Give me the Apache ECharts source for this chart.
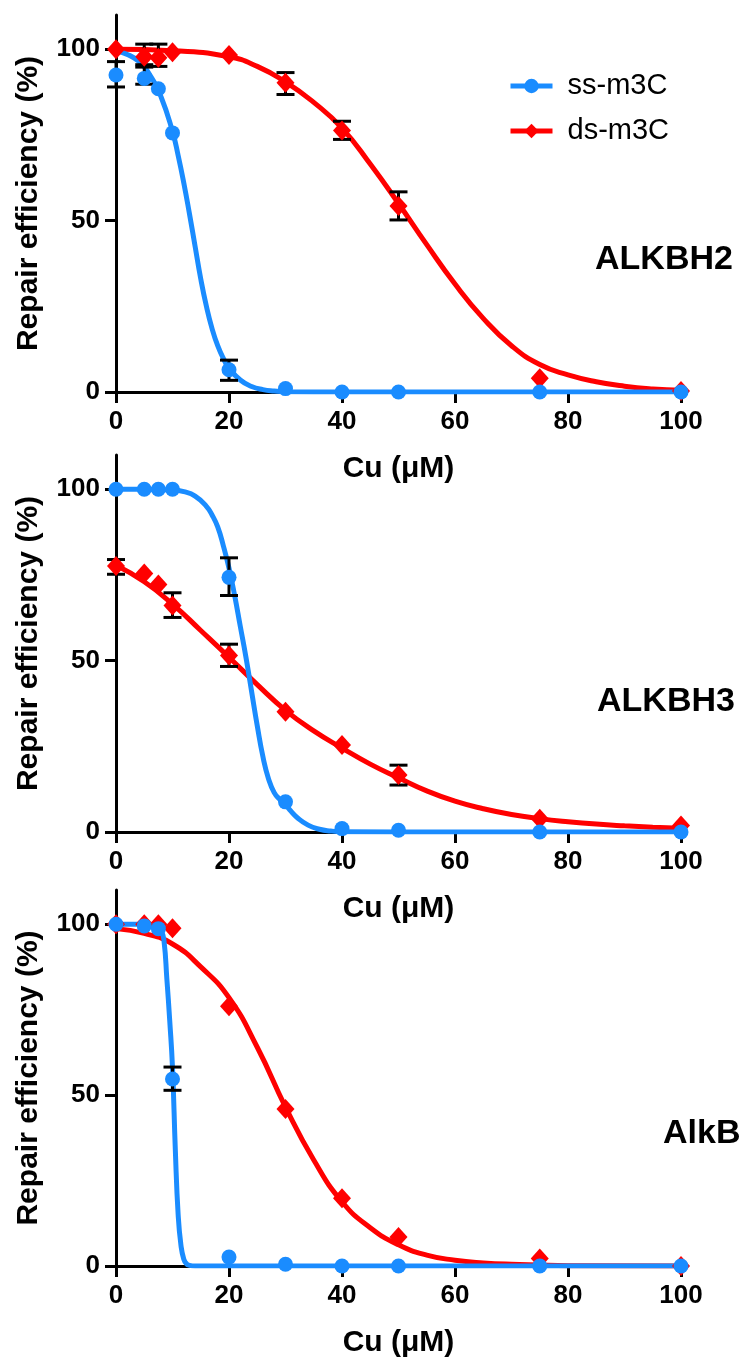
<!DOCTYPE html>
<html>
<head>
<meta charset="utf-8">
<script src="https://cdn.jsdelivr.net/npm/echarts@6/dist/echarts.min.js"></script>
<style>
  html, body { margin: 0; padding: 0; background: #fff; }
  #chart { width: 742px; height: 1361px; }
</style>
</head>
<body>
<div id="chart"></div>
<script>
// Cu doses (µM) for the measured points
const doses = [0, 5, 7.5, 10, 20, 30, 40, 50, 75, 100]
const xTicks = [0, 20, 40, 60, 80, 100]
const yTicks = [0, 50, 100]
const panelNames = ['ALKBH2', 'ALKBH3', 'AlkB']
const seriesNames = ['ss-m3C', 'ds-m3C']

// ALKBH2 measured points
const h2Ss = [92.5, 91.5, 88.5, 75.6, 6.5, 1.0, 0, 0, 0, 0]
const h2Ds = [100, 97.8, 97.5, 99.1, 98.3, 90.2, 76.3, 54.3, 4.0, 0.3]
// ALKBH2 fitted curves
const h2SsFitX = [0, 2, 4, 6, 8, 10, 11, 12, 13, 14, 15, 16, 17, 18, 19, 20, 22, 24, 26, 28, 30, 40, 60, 80, 100]
const h2SsFitY = [99.5, 98.5, 96.5, 92.5, 86, 76, 69, 61, 52, 42.5, 33, 25, 18.5, 13.5, 9.8, 7, 3.5, 1.6, 0.7, 0.3, 0.1, 0, 0, 0, 0]
const h2DsFitX = [0, 10, 20, 25, 30, 35, 40, 45, 50, 55, 60, 65, 70, 75, 80, 85, 90, 95, 100]
const h2DsFitY = [100, 99.6, 97.8, 95, 90.5, 84.5, 77, 66.5, 55, 43, 31.5, 21.5, 13.5, 8, 5, 3, 1.7, 0.9, 0.5]
// ALKBH2 error bars
const h2SsErrX = [0, 5, 20]
const h2SsErrLo = [89, 89.8, 3.4]
const h2SsErrHi = [96.4, 94.8, 9.3]
const h2DsErrX = [5, 7.5, 30, 40, 50]
const h2DsErrLo = [95.5, 95, 86.8, 73.7, 50.2]
const h2DsErrHi = [101.5, 101.5, 93.2, 79, 58.4]

// ALKBH3 measured points
const h3Ss = [100, 100, 100, 100, 74.3, 8.8, 1.0, 0.5, 0, 0]
const h3Ds = [77.6, 75.4, 72.2, 66.1, 51.5, 35.1, 25.4, 16.6, 3.9, 1.9]
// ALKBH3 fitted curves
const h3SsFitX = [0, 5, 10, 12, 14, 16, 17, 18, 19, 20, 21, 22, 23, 24, 25, 26, 27, 28, 29, 30, 31, 32, 34, 36, 38, 40, 60, 100]
const h3SsFitY = [100, 100, 99.8, 99.3, 98, 95, 92.5, 89, 83.5, 77, 69, 60, 51, 41, 31, 22, 15.5, 11.5, 9.5, 8, 6, 4.3, 2, 0.8, 0.3, 0.1, 0, 0]
const h3DsFitX = [0, 5, 10, 15, 20, 25, 30, 35, 40, 45, 50, 55, 60, 65, 70, 75, 80, 85, 90, 95, 100]
const h3DsFitY = [77.8, 73, 66.5, 58.8, 51, 43, 35.5, 29.5, 24.5, 19.8, 15.8, 12, 9, 6.8, 5.1, 3.9, 3.0, 2.3, 1.8, 1.4, 1.1]
// ALKBH3 error bars
const h3SsErrX = [20]
const h3SsErrLo = [69]
const h3SsErrHi = [80]
const h3DsErrX = [0, 10, 20, 50]
const h3DsErrLo = [75.2, 62.6, 48.3, 13.7]
const h3DsErrHi = [79.5, 69.8, 54.8, 19.5]

// AlkB measured points
const alkSs = [100, 99.5, 98.7, 54.7, 2.6, 0.5, 0, 0, 0, 0]
const alkDs = [100, 100, 100, 98.8, 76, 45.9, 19.8, 8.5, 2.2, 0]
// AlkB fitted curves
const alkSsFitX = [0, 5, 7, 8, 8.5, 9, 9.5, 10, 10.5, 11, 11.5, 12, 12.5, 13, 14, 20, 100]
const alkSsFitY = [100, 100, 99.3, 98, 95, 84, 72, 58, 34, 15, 6, 2, 0.6, 0.2, 0, 0, 0]
const alkDsFitX = [0, 5, 10, 15, 20, 25, 30, 35, 40, 45, 50, 55, 60, 65, 70, 80, 100]
const alkDsFitY = [98.7, 97.3, 94.2, 87.5, 78.5, 64, 46.5, 31, 18.8, 11.2, 6.2, 3.2, 1.7, 0.9, 0.5, 0.1, 0]
// AlkB error bars
const alkSsErrX = [10]
const alkSsErrLo = [51.4]
const alkSsErrHi = [58.2]
const alkDsErrX = []
const alkDsErrLo = []
const alkDsErrHi = []

const BLUE = '#1a8cff'
const RED = '#ff0000'
const FONT = "'Liberation Sans', Arial, sans-serif"

const panels = [
  { top: 15, height: 377, ss: h2Ss, ds: h2Ds, ssFit: [h2SsFitX, h2SsFitY], dsFit: [h2DsFitX, h2DsFitY],
    ssErr: [h2SsErrX, h2SsErrLo, h2SsErrHi], dsErr: [h2DsErrX, h2DsErrLo, h2DsErrHi], label: [595, 263] },
  { top: 455, height: 377, ss: h3Ss, ds: h3Ds, ssFit: [h3SsFitX, h3SsFitY], dsFit: [h3DsFitX, h3DsFitY],
    ssErr: [h3SsErrX, h3SsErrLo, h3SsErrHi], dsErr: [h3DsErrX, h3DsErrLo, h3DsErrHi], label: [597, 705] },
  { top: 890, height: 376, ss: alkSs, ds: alkDs, ssFit: [alkSsFitX, alkSsFitY], dsFit: [alkDsFitX, alkDsFitY],
    ssErr: [alkSsErrX, alkSsErrLo, alkSsErrHi], dsErr: [alkDsErrX, alkDsErrLo, alkDsErrHi], label: [663, 1137] }
]

const zip = (xs, ys) => xs.map((x, i) => [x, ys[i]])

const renderErrorBar = (params, api) => {
  const x = api.value(0)
  const lo = api.coord([x, api.value(1)])
  const hi = api.coord([x, api.value(2)])
  const hw = 9
  const style = { stroke: '#000', lineWidth: 3 }
  return {
    type: 'group',
    children: [
      { type: 'line', shape: { x1: lo[0], y1: lo[1], x2: hi[0], y2: hi[1] }, style },
      { type: 'line', shape: { x1: lo[0] - hw, y1: lo[1], x2: lo[0] + hw, y2: lo[1] }, style },
      { type: 'line', shape: { x1: hi[0] - hw, y1: hi[1], x2: hi[0] + hw, y2: hi[1] }, style }
    ]
  }
}

const axisText = { color: '#000', fontFamily: FONT, fontWeight: 'bold' }

const grid = []
const xAxis = []
const yAxis = []
const series = []
const graphic = []

panels.forEach((p, i) => {
  grid.push({ left: 116, right: 61, top: p.top, height: p.height })
  xAxis.push({
    gridIndex: i, type: 'value', min: 0, max: 100, interval: 20,
    name: 'Cu (μM)', nameLocation: 'middle', nameGap: 62,
    nameTextStyle: { ...axisText, fontSize: 30 },
    axisLine: { onZero: false, lineStyle: { color: '#000', width: 3 } },
    axisTick: { show: true, length: 11, lineStyle: { color: '#000', width: 3 }, customValues: xTicks },
    axisLabel: { ...axisText, fontSize: 26, margin: 17, customValues: xTicks },
    splitLine: { show: false }
  })
  yAxis.push({
    gridIndex: i, type: 'value', min: 0, max: 110,
    name: 'Repair efficiency (%)', nameLocation: 'middle', nameGap: 72,
    nameTextStyle: { ...axisText, fontSize: 30 },
    axisLine: { show: true, lineStyle: { color: '#000', width: 3 } },
    axisTick: { show: true, length: 11, lineStyle: { color: '#000', width: 3 }, customValues: yTicks },
    axisLabel: { ...axisText, fontSize: 26, margin: 16, customValues: yTicks },
    splitLine: { show: false }
  })

  // fitted curves (red under blue)
  series.push({
    name: seriesNames[1], type: 'line', xAxisIndex: i, yAxisIndex: i,
    data: zip(p.dsFit[0], p.dsFit[1]), smooth: 0.5,
    symbol: 'diamond', showSymbol: false, silent: true, z: 2,
    lineStyle: { color: RED, width: 5 }, itemStyle: { color: RED }
  })
  series.push({
    name: seriesNames[0], type: 'line', xAxisIndex: i, yAxisIndex: i,
    data: zip(p.ssFit[0], p.ssFit[1]), smooth: 0.5,
    symbol: 'circle', showSymbol: false, silent: true, z: 3,
    lineStyle: { color: BLUE, width: 5 }, itemStyle: { color: BLUE }
  })

  // error bars
  series.push({
    type: 'custom', xAxisIndex: i, yAxisIndex: i, z: 4, silent: true,
    renderItem: renderErrorBar,
    data: p.dsErr[0].map((x, k) => [x, p.dsErr[1][k], p.dsErr[2][k]])
  })
  series.push({
    type: 'custom', xAxisIndex: i, yAxisIndex: i, z: 4, silent: true,
    renderItem: renderErrorBar,
    data: p.ssErr[0].map((x, k) => [x, p.ssErr[1][k], p.ssErr[2][k]])
  })

  // measured points
  series.push({
    type: 'scatter', xAxisIndex: i, yAxisIndex: i, z: 5,
    data: zip(doses, p.ds), symbol: 'diamond', symbolSize: [18, 20],
    itemStyle: { color: RED, opacity: 1 }
  })
  series.push({
    type: 'scatter', xAxisIndex: i, yAxisIndex: i, z: 6,
    data: zip(doses, p.ss), symbol: 'circle', symbolSize: 15,
    itemStyle: { color: BLUE, opacity: 1 }
  })

  graphic.push({
    type: 'text', left: p.label[0], top: p.label[1] - 20,
    style: { text: panelNames[i], font: `bold 34px ${FONT}`, fill: '#000' }
  })
})

const chart = echarts.init(document.getElementById('chart'), null, { renderer: 'canvas' })
chart.setOption({
  animation: false,
  backgroundColor: '#fff',
  grid,
  xAxis,
  yAxis,
  series,
  graphic,
  legend: {
    data: seriesNames,
    orient: 'vertical',
    left: 503,
    top: 66,
    itemWidth: 42,
    itemHeight: 18,
    itemGap: 15,
    lineStyle: { width: 5 },
    textStyle: { fontFamily: FONT, fontSize: 29, color: '#000', lineHeight: 30, padding: [0, 0, 0, 10] }
  }
})
</script>
</body>
</html>
